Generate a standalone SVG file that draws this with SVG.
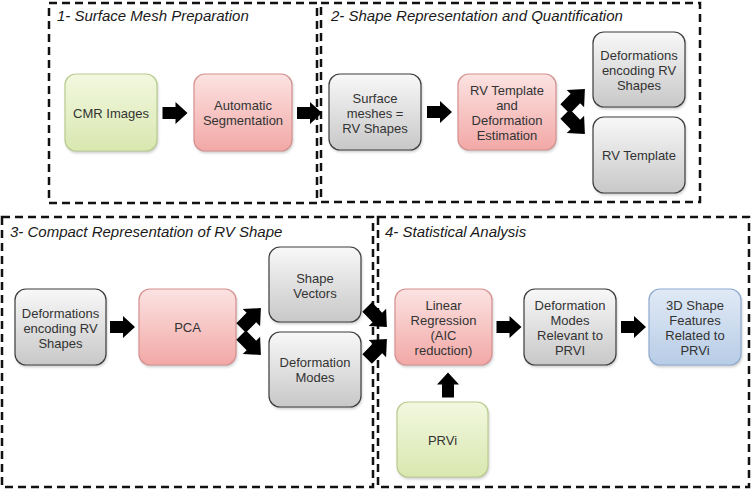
<svg xmlns="http://www.w3.org/2000/svg" width="752" height="492" viewBox="0 0 752 492">
<style>
.panel{fill:none;stroke:#111;stroke-width:2.5;stroke-dasharray:8 5}
.title{font-family:"Liberation Sans",Arial,sans-serif;font-style:italic;font-size:15px;fill:#1a1a1a}
.lbl{font-family:"Liberation Sans",Arial,sans-serif;font-size:13px;fill:#333;text-anchor:middle}
.box{stroke-width:1.2}
.green{fill:url(#gGreen);stroke:#b9cc8f}
.pink{fill:url(#gPink);stroke:#d4918f}
.gray{fill:url(#gGray);stroke:#3c3c3c}
.blue{fill:url(#gBlue);stroke:#8fabd1}
.shadow{fill:#000;opacity:0.22;filter:url(#blur)}
.arr{fill:#000;stroke:none}
</style>
<defs>
<linearGradient id="gGreen" x1="0" y1="0" x2="0" y2="1"><stop offset="0" stop-color="#f2f8df"/><stop offset="1" stop-color="#d9e7b0"/></linearGradient>
<linearGradient id="gPink" x1="0" y1="0" x2="0" y2="1"><stop offset="0" stop-color="#fbe3e2"/><stop offset="1" stop-color="#f2a8a6"/></linearGradient>
<linearGradient id="gGray" x1="0" y1="0" x2="0" y2="1"><stop offset="0" stop-color="#f8f8f8"/><stop offset="1" stop-color="#c8c8c8"/></linearGradient>
<linearGradient id="gBlue" x1="0" y1="0" x2="0" y2="1"><stop offset="0" stop-color="#e1eaf6"/><stop offset="1" stop-color="#b7cce6"/></linearGradient>
<filter id="blur" x="-20%" y="-20%" width="140%" height="140%"><feGaussianBlur stdDeviation="1.5"/></filter>
</defs>
<rect width="752" height="492" fill="#fff"/>

<g id="panels">
<rect class="panel" x="49" y="3" width="268" height="200"/>
<rect class="panel" x="321" y="3" width="379" height="199"/>
<rect class="panel" x="2" y="217" width="371" height="270"/>
<rect class="panel" x="378" y="217" width="371" height="270"/>
<text class="title" x="57" y="21">1- Surface Mesh Preparation</text>
<text class="title" x="331" y="21">2- Shape Representation and Quantification</text>
<text class="title" x="10" y="237">3- Compact Representation of RV Shape</text>
<text class="title" x="385" y="237">4- Statistical Analysis</text>
</g>

<g id="cmr">
<rect class="shadow" x="66" y="76" width="92" height="77" rx="11"/>
<rect class="box green" x="65" y="74" width="92" height="77" rx="11"/>
<text class="lbl" x="111" y="117.5">CMR Images</text>
</g>
<g id="autoseg">
<rect class="shadow" x="195" y="76" width="98" height="77" rx="11"/>
<rect class="box pink" x="194" y="74" width="98" height="77" rx="11"/>
<text class="lbl" x="243" y="110">Automatic</text>
<text class="lbl" x="243" y="125">Segmentation</text>
</g>
<g id="surface">
<rect class="shadow" x="330" y="76" width="92" height="76" rx="11"/>
<rect class="box gray" x="329" y="74" width="92" height="76" rx="11"/>
<text class="lbl" x="375" y="102.5">Surface</text>
<text class="lbl" x="375" y="117.5">meshes =</text>
<text class="lbl" x="375" y="132.5">RV Shapes</text>
</g>
<g id="rvtemplate_est">
<rect class="shadow" x="459" y="76" width="98" height="76" rx="11"/>
<rect class="box pink" x="458" y="74" width="98" height="76" rx="11"/>
<text class="lbl" x="507" y="95">RV Template</text>
<text class="lbl" x="507" y="110">and</text>
<text class="lbl" x="507" y="125">Deformation</text>
<text class="lbl" x="507" y="140">Estimation</text>
</g>
<g id="deform_enc1">
<rect class="shadow" x="594" y="34" width="92" height="75" rx="11"/>
<rect class="box gray" x="593" y="32" width="92" height="75" rx="11"/>
<text class="lbl" x="639" y="59.5">Deformations</text>
<text class="lbl" x="639" y="74.5">encoding RV</text>
<text class="lbl" x="639" y="89.5">Shapes</text>
</g>
<g id="rvtemplate">
<rect class="shadow" x="594" y="119" width="92" height="76" rx="11"/>
<rect class="box gray" x="593" y="117" width="92" height="76" rx="11"/>
<text class="lbl" x="639" y="160">RV Template</text>
</g>

<g id="deform_enc2">
<rect class="shadow" x="16" y="291" width="91" height="76" rx="11"/>
<rect class="box gray" x="15" y="289" width="91" height="76" rx="11"/>
<text class="lbl" x="60.5" y="317.5">Deformations</text>
<text class="lbl" x="60.5" y="332.5">encoding RV</text>
<text class="lbl" x="60.5" y="347.5">Shapes</text>
</g>
<g id="pca">
<rect class="shadow" x="140" y="291" width="97" height="76" rx="11"/>
<rect class="box pink" x="139" y="289" width="97" height="76" rx="11"/>
<text class="lbl" x="187.5" y="332">PCA</text>
</g>
<g id="shapevec">
<rect class="shadow" x="270" y="249" width="92" height="75" rx="11"/>
<rect class="box gray" x="269" y="247" width="92" height="75" rx="11"/>
<text class="lbl" x="315" y="282.5">Shape</text>
<text class="lbl" x="315" y="297.5">Vectors</text>
</g>
<g id="defmodes">
<rect class="shadow" x="270" y="334" width="92" height="75" rx="11"/>
<rect class="box gray" x="269" y="332" width="92" height="75" rx="11"/>
<text class="lbl" x="315" y="367">Deformation</text>
<text class="lbl" x="315" y="382">Modes</text>
</g>

<g id="linreg">
<rect class="shadow" x="396" y="291" width="97" height="76" rx="11"/>
<rect class="box pink" x="395" y="289" width="97" height="76" rx="11"/>
<text class="lbl" x="443.5" y="310">Linear</text>
<text class="lbl" x="443.5" y="325">Regression</text>
<text class="lbl" x="443.5" y="340">(AIC</text>
<text class="lbl" x="443.5" y="355">reduction)</text>
</g>
<g id="relevant">
<rect class="shadow" x="525" y="291" width="92" height="76" rx="11"/>
<rect class="box gray" x="524" y="289" width="92" height="76" rx="11"/>
<text class="lbl" x="570" y="310">Deformation</text>
<text class="lbl" x="570" y="325">Modes</text>
<text class="lbl" x="570" y="340">Relevant to</text>
<text class="lbl" x="570" y="355">PRVI</text>
</g>
<g id="features">
<rect class="shadow" x="650" y="291" width="92" height="76" rx="11"/>
<rect class="box blue" x="649" y="289" width="92" height="76" rx="11"/>
<text class="lbl" x="695" y="310">3D Shape</text>
<text class="lbl" x="695" y="325">Features</text>
<text class="lbl" x="695" y="340">Related to</text>
<text class="lbl" x="695" y="355">PRVi</text>
</g>
<g id="prvi">
<rect class="shadow" x="398" y="404" width="91" height="75" rx="11"/>
<rect class="box green" x="397" y="402" width="91" height="75" rx="11"/>
<text class="lbl" x="442.5" y="444.5">PRVi</text>
</g>

<g id="connectors" class="arr">
<path transform="translate(175,113)" d="M-12.5,-6 H0.5 V-11 L12.5,0 L0.5,11 V6 H-12.5 Z"/>
<path transform="translate(309.5,113)" d="M-12.5,-6 H0.5 V-11 L12.5,0 L0.5,11 V6 H-12.5 Z"/>
<path transform="translate(439.5,112)" d="M-12.5,-6 H0.5 V-11 L12.5,0 L0.5,11 V6 H-12.5 Z"/>
<path transform="translate(575,99) rotate(-45) scale(1.12)" d="M-12.5,-6 H0.5 V-11 L12.5,0 L0.5,11 V6 H-12.5 Z"/>
<path transform="translate(575,124) rotate(45) scale(1.12)" d="M-12.5,-6 H0.5 V-11 L12.5,0 L0.5,11 V6 H-12.5 Z"/>
<path transform="translate(122.5,327)" d="M-12.5,-6 H0.5 V-11 L12.5,0 L0.5,11 V6 H-12.5 Z"/>
<path transform="translate(251,318) rotate(-45) scale(1.12)" d="M-12.5,-6 H0.5 V-11 L12.5,0 L0.5,11 V6 H-12.5 Z"/>
<path transform="translate(251,345) rotate(45) scale(1.12)" d="M-12.5,-6 H0.5 V-11 L12.5,0 L0.5,11 V6 H-12.5 Z"/>
<path transform="translate(377,317) rotate(45) scale(1.12)" d="M-12.5,-6 H0.5 V-11 L12.5,0 L0.5,11 V6 H-12.5 Z"/>
<path transform="translate(377,349) rotate(-45) scale(1.12)" d="M-12.5,-6 H0.5 V-11 L12.5,0 L0.5,11 V6 H-12.5 Z"/>
<path transform="translate(509,327)" d="M-12.5,-6 H0.5 V-11 L12.5,0 L0.5,11 V6 H-12.5 Z"/>
<path transform="translate(633.5,327)" d="M-12.5,-6 H0.5 V-11 L12.5,0 L0.5,11 V6 H-12.5 Z"/>
<path transform="translate(448,385) rotate(-90)" d="M-12.5,-6 H0.5 V-11 L12.5,0 L0.5,11 V6 H-12.5 Z"/>
</g>
</svg>
